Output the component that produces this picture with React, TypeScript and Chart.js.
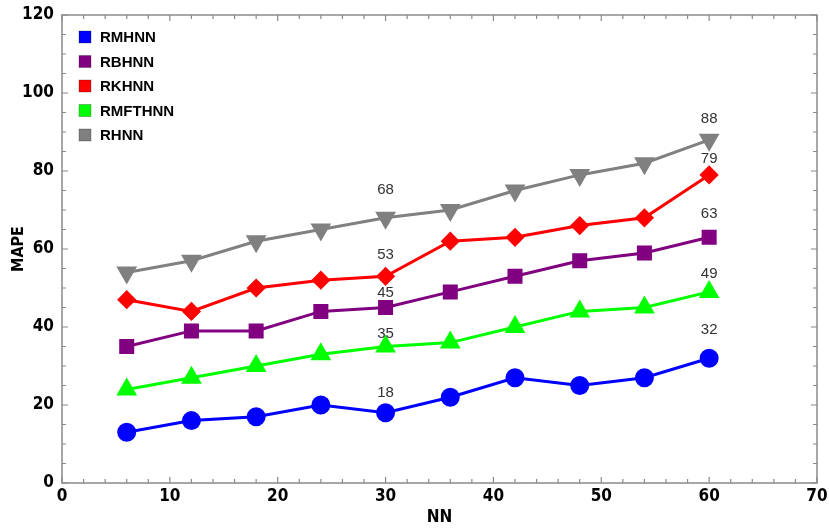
import React, { useEffect, useRef } from "react";
import { Chart, registerables } from "chart.js";

Chart.register(...registerables);

const nnValues = [6, 12, 18, 24, 30, 36, 42, 48, 54, 60];
const seriesNames = ["RMHNN", "RBHNN", "RKHNN", "RMFTHNN", "RHNN"];
const rmhnn = [13, 16, 17, 20, 18, 22, 27, 25, 27, 32];
const rbhnn = [35, 39, 39, 44, 45, 49, 53, 57, 59, 63];
const rkhnn = [47, 44, 50, 52, 53, 62, 63, 66, 68, 79];
const rmfthnn = [24, 27, 30, 33, 35, 36, 40, 44, 45, 49];
const rhnn = [54, 57, 62, 65, 68, 70, 75, 79, 82, 88];
const labeledNN = [30, 60];
const yTicks = [0, 20, 40, 60, 80, 100, 120];
const xTicks = [0, 10, 20, 30, 40, 50, 60, 70];

const colors = ["#0000ff", "#800080", "#ff0000", "#00ff00", "#808080"];
const pointStyles: any[] = ["circle", "rect", "rectRot", "triangle", "triangle"];
const pointRadii = [8, 8.5, 7.5, 9, 9];
const pointRotations = [0, 0, 0, 0, 180];
// label offset above marker (px), per series, for the labelled points
const labelOffsets = [
  [20, 28],
  [15, 23],
  [21, 16],
  [13, 18],
  [28, 21],
];

const tickFont = "'DejaVu Sans Condensed', 'Liberation Sans Narrow', 'Liberation Sans', Arial";

const framePlugin = {
  id: "frameTicks",
  afterDraw(chart: any) {
    const { ctx, chartArea } = chart;
    const { left, right, top, bottom } = chartArea;
    const xs = chart.scales.x;
    const ys = chart.scales.y;
    ctx.save();
    ctx.strokeStyle = "#8a8a8a";
    ctx.lineWidth = 1.5;
    ctx.strokeRect(left, top, right - left, bottom - top);
    ctx.lineWidth = 1.2;
    for (let v = 0; v <= 70; v += 2) {
      const px = xs.getPixelForValue(v);
      const len = v % 10 === 0 ? 6 : 4;
      ctx.beginPath();
      ctx.moveTo(px, bottom);
      ctx.lineTo(px, bottom - len);
      ctx.moveTo(px, top);
      ctx.lineTo(px, top + len);
      ctx.stroke();
    }
    for (let v = 0; v <= 120; v += 5) {
      const py = ys.getPixelForValue(v);
      const len = v % 20 === 0 ? 6 : 4;
      ctx.beginPath();
      ctx.moveTo(left, py);
      ctx.lineTo(left + len, py);
      ctx.moveTo(right, py);
      ctx.lineTo(right - len, py);
      ctx.stroke();
    }
    ctx.fillStyle = "#333333";
    ctx.font = "15px 'Liberation Sans', Arial, sans-serif";
    ctx.textAlign = "center";
    ctx.textBaseline = "middle";
    chart.data.datasets.forEach((ds: any, i: number) => {
      const meta = chart.getDatasetMeta(i);
      ds.data.forEach((d: any, j: number) => {
        const k = labeledNN.indexOf(d.x);
        if (k >= 0) {
          const el = meta.data[j];
          ctx.fillText(String(d.y), el.x, el.y - labelOffsets[i][k]);
        }
      });
    });
    ctx.font = "bold 15px 'Liberation Sans', Arial, sans-serif";
    ctx.textAlign = "left";
    chart.data.datasets.forEach((ds: any, i: number) => {
      const y = 37 + i * 24.5;
      ctx.fillStyle = ds.backgroundColor;
      ctx.fillRect(79, y - 6, 12, 12);
      ctx.strokeStyle = "rgba(0,0,0,0.25)";
      ctx.lineWidth = 1;
      ctx.strokeRect(79, y - 6, 12, 12);
      ctx.fillStyle = "#000";
      ctx.fillText(ds.label, 100, y + 1);
    });
    ctx.restore();
  },
};

export default function App() {
  const ref = useRef<HTMLCanvasElement>(null);
  useEffect(() => {
    document.body.style.margin = "0";
    const series = [rmhnn, rbhnn, rkhnn, rmfthnn, rhnn];
    const chart = new Chart(ref.current!, {
      type: "line",
      data: {
        datasets: series.map((s, i) => ({
          label: seriesNames[i],
          data: s.map((v, j) => ({ x: nnValues[j], y: v })),
          borderColor: colors[i],
          backgroundColor: colors[i],
          pointBackgroundColor: colors[i],
          pointBorderColor: colors[i],
          pointStyle: pointStyles[i],
          pointRadius: pointRadii[i],
          pointRotation: pointRotations[i],
          borderWidth: 3,
          tension: 0,
        })),
      },
      options: {
        animation: false,
        responsive: false,
        layout: { padding: { top: 15, right: 10, left: 0, bottom: 0 } },
        plugins: { legend: { display: false }, tooltip: { enabled: false } },
        scales: {
          x: {
            type: "linear",
            min: 0,
            max: 70,
            afterBuildTicks: (s: any) => {
              s.ticks = xTicks.map((v) => ({ value: v }));
            },
            afterFit: (s: any) => {
              s.height = 45;
            },
            grid: { display: false },
            border: { display: false },
            ticks: {
              color: "#000",
              padding: -5,
              font: { family: tickFont, size: 17, weight: "bold" },
            },
            title: {
              display: true,
              text: "NN",
              color: "#000",
              padding: { top: 0, bottom: 0 },
              font: { family: tickFont, size: 17, weight: "bold" },
            },
          },
          y: {
            type: "linear",
            min: 0,
            max: 120,
            afterBuildTicks: (s: any) => {
              s.ticks = yTicks.map((v) => ({ value: v }));
            },
            afterFit: (s: any) => {
              s.width = 62;
            },
            grid: { display: false },
            border: { display: false },
            ticks: {
              color: "#000",
              padding: 0,
              font: { family: tickFont, size: 17, weight: "bold" },
            },
            title: {
              display: true,
              text: "MAPE",
              color: "#000",
              padding: { top: 9, bottom: 0 },
              font: { family: tickFont, size: 16, weight: "bold" },
            },
          },
        },
      },
      plugins: [framePlugin],
    });
    return () => chart.destroy();
  }, []);
  return (
    <div style={{ position: "absolute", left: 0, top: 0, width: 829, height: 528 }}>
      <canvas ref={ref} width={829} height={528} style={{ width: 829, height: 528 }} />
    </div>
  );
}
